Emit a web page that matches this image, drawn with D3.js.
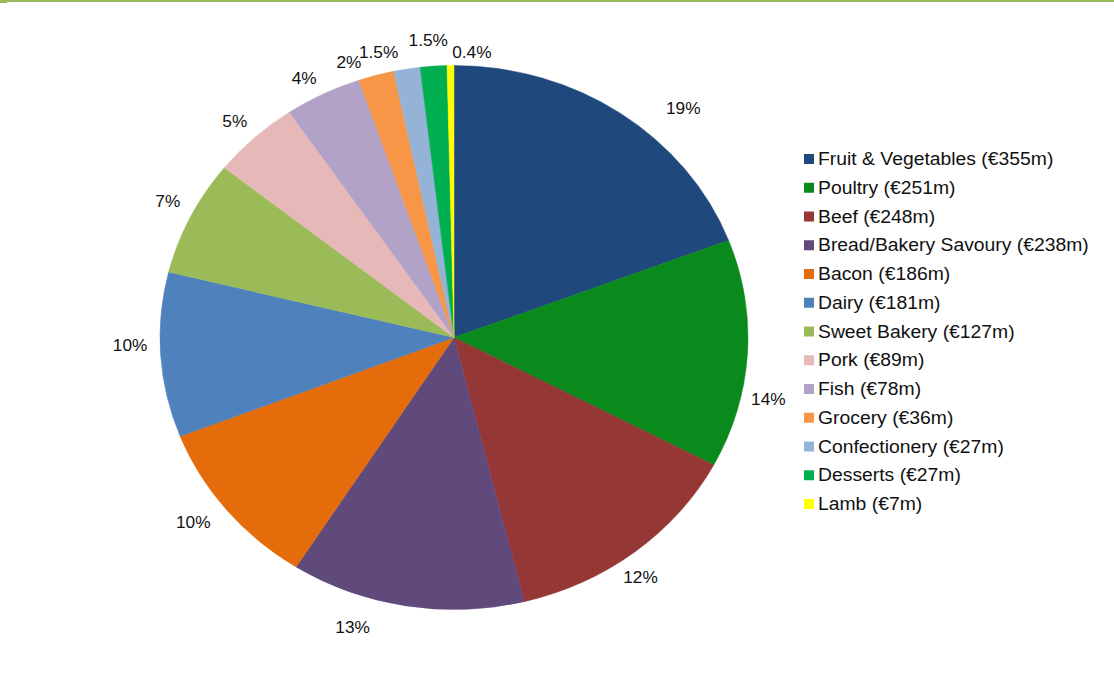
<!DOCTYPE html>
<html>
<head>
<meta charset="utf-8">
<script src="https://cdn.jsdelivr.net/npm/d3@7"></script>
<style>
  body { margin: 0; background: #fff; }
  svg { display: block; font-family: "Liberation Sans", Arial, sans-serif; }
</style>
</head>
<body>
<svg width="1114" height="686"></svg>
<script>
// data
var categories = ["Fruit & Vegetables", "Poultry", "Beef", "Bread/Bakery Savoury", "Bacon", "Dairy",
  "Sweet Bakery", "Pork", "Fish", "Grocery", "Confectionery", "Desserts", "Lamb"];
var values = [355, 251, 248, 238, 186, 181, 127, 89, 78, 36, 27, 27, 7];
var valueLabels = ["€355m", "€251m", "€248m", "€238m", "€186m", "€181m", "€127m", "€89m", "€78m", "€36m", "€27m", "€27m", "€7m"];
var pctLabels = ["19%", "14%", "12%", "13%", "10%", "10%", "7%", "5%", "4%", "2%", "1.5%", "1.5%", "0.4%"];
var colors = ["#1F497D", "#0A8A1C", "#953735", "#604A7B", "#E46C0A", "#4F81BD",
  "#9BBB59", "#E6B9B8", "#B3A2C7", "#F79646", "#95B3D7", "#00B050", "#FFFF00"];

// layout
var cx = 454, cy = 337.5, rx = 294, ry = 272;
var stretch = rx / ry; // the original is drawn a little wide
// label placement tweaks (angle in degrees, radius factor) to follow the original
var labelNudge = [8.3, 8.5, 2.2, 8.6, 1.9, 2.2, 0.9, -0.5, -1.7, -4.1, -4.5, -0.6, 4];
var labelK = [1.147, 1.093, 1.086, 1.12, 1.118, 1.102, 1.094, 1.089, 1.08, 1.072, 1.079, 1.094, 1.05];

var svg = d3.select("svg");

// top rule
svg.append("rect").attr("x", 0).attr("y", 0).attr("width", 1114).attr("height", 2).attr("fill", "#9BBB59");
svg.append("rect").attr("x", 0).attr("y", 0).attr("width", 7).attr("height", 3).attr("fill", "#9BBB59");

var pie = d3.pie().sort(null).value(function(d) { return d; });
var arcs = pie(values);
var arc = d3.arc().innerRadius(0).outerRadius(rx);

var color = d3.scaleOrdinal().domain(categories).range(colors);

var pieG = svg.append("g")
  .attr("transform", "translate(" + cx + "," + cy + ") scale(1," + (ry / rx) + ")");

pieG.selectAll("path")
  .data(arcs)
  .enter()
  .append("path")
  .attr("d", arc)
  .attr("fill", function(d, i) { return color(categories[i]); })
  .attr("stroke", function(d, i) { return color(categories[i]); })
  .attr("stroke-width", 0.5);

// percentage labels
function labelPos(d, i) {
  var a = (d.startAngle + d.endAngle) / 2 + labelNudge[i] * Math.PI / 180;
  return [cx + rx * labelK[i] * Math.sin(a), cy - ry * labelK[i] * Math.cos(a)];
}
svg.append("g").selectAll("text")
  .data(arcs)
  .enter()
  .append("text")
  .text(function(d, i) { return pctLabels[i]; })
  .attr("transform", function(d, i) {
    var p = labelPos(d, i);
    return "translate(" + p[0] + "," + p[1] + ") scale(" + stretch + ",1)";
  })
  .attr("text-anchor", "middle")
  .attr("dominant-baseline", "central")
  .style("font-size", "16px")
  .attr("fill", "#111");

// legend
var legendY = d3.scaleLinear().domain([0, categories.length - 1]).range([159, 504]);
var items = svg.append("g").selectAll("g")
  .data(categories)
  .enter()
  .append("g")
  .attr("transform", function(d, i) { return "translate(804," + legendY(i) + ")"; });

items.append("rect")
  .attr("x", 0).attr("y", -5)
  .attr("width", 10).attr("height", 10)
  .attr("fill", function(d) { return color(d); });

items.append("text")
  .text(function(d, i) { return d + " (" + valueLabels[i] + ")"; })
  .attr("transform", "translate(14,0) scale(" + stretch + ",1)")
  .attr("dominant-baseline", "central")
  .style("font-size", "17.9px")
  .attr("fill", "#111");
</script>
</body>
</html>
